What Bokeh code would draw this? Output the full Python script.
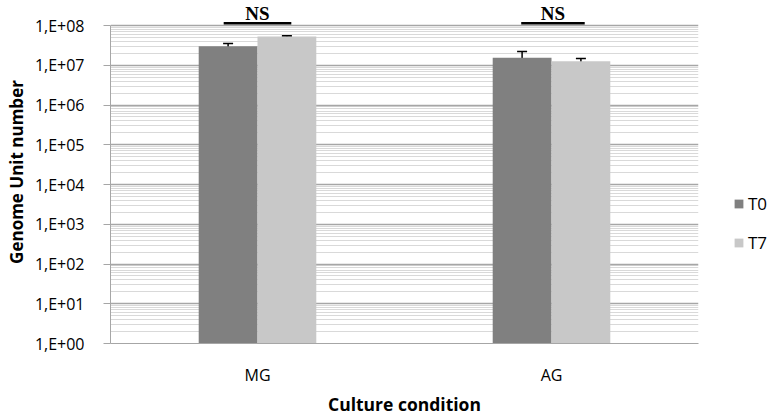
from bokeh.plotting import figure
from bokeh.models import (FactorRange, FixedTicker, ColumnDataSource, Whisker, TeeHead,
                          Legend, LegendItem, Label, Arrow)
from bokeh.transform import dodge
from bokeh.embed import file_html
from bokeh.resources import INLINE

categories = ["MG", "AG"]
series = ["T0", "T7"]
t0_values = [3.0e7, 1.55e7]
t0_lower = [2.5e7, 9.7e6]
t0_upper = [3.55e7, 2.22e7]
t7_values = [5.3e7, 1.26e7]
t7_lower = [5.15e7, 1.09e7]
t7_upper = [5.5e7, 1.48e7]
tick_values = [1, 10, 100, 1e3, 1e4, 1e5, 1e6, 1e7, 1e8]
tick_labels = ["1,E+00", "1,E+01", "1,E+02", "1,E+03", "1,E+04", "1,E+05", "1,E+06", "1,E+07", "1,E+08"]
ns_labels = ["NS", "NS"]

colors = {"T0": "#808080", "T7": "#c8c8c8"}
font = "Open Sans"

minor = [k * d for d in tick_values[:-1] for k in range(2, 10)]

p = figure(frame_width=588, frame_height=343, x_range=FactorRange(*categories, range_padding=0),
           y_axis_type="log", y_range=(1, 10 ** 8.629), output_backend="svg", toolbar_location=None,
           min_border_left=110, min_border_right=70, min_border_top=0, min_border_bottom=10)
p.outline_line_color = None
p.background_fill_color = "white"

src = ColumnDataSource(dict(cat=categories, t0=t0_values, t7=t7_values,
                            t0l=t0_lower, t0u=t0_upper, t7l=t7_lower, t7u=t7_upper))

r0 = p.vbar(x=dodge("cat", -0.1, range=p.x_range), top="t0", bottom=1, width=0.2,
            source=src, color=colors["T0"], line_color=None)
r1 = p.vbar(x=dodge("cat", 0.1, range=p.x_range), top="t7", bottom=1, width=0.2,
            source=src, color=colors["T7"], line_color=None)

for key, off in (("t0", -0.1), ("t7", 0.1)):
    w = Whisker(base=dodge("cat", off, range=p.x_range), lower=key + "l", upper=key + "u",
                source=src, line_color="black", line_width=1.5,
                upper_head=TeeHead(size=10, line_color="black", line_width=1.5),
                lower_head=TeeHead(size=10, line_color="black", line_width=1.5))
    p.add_layout(w)

# NS annotations
for i, lab in enumerate(ns_labels):
    cx = i + 0.5 + (0.0 if i == 0 else 0.005)
    half = 0.115 if i == 0 else 0.108
    p.add_layout(Arrow(end=None, x_start=cx - half, x_end=cx + half, y_start=1.14e8, y_end=1.14e8,
                       line_color="black", line_width=2.5))
    p.add_layout(Label(x=cx, y=2.06e8, text=lab, text_align="center", text_baseline="middle",
                       text_font="Liberation Serif", text_font_style="bold", text_font_size="19px",
                       text_color="black"))

# grids
p.xgrid.grid_line_color = None
p.ygrid.ticker = FixedTicker(ticks=tick_values, minor_ticks=minor)
p.ygrid.grid_line_color = "#a6a6a6"
p.ygrid.grid_line_width = 1.5
p.ygrid.minor_grid_line_color = "#d9d9d9"
p.ygrid.minor_grid_line_width = 1

# y axis
ya = p.yaxis[0]
ya.bounds = (1, 1e8)
ya.ticker = FixedTicker(ticks=tick_values, minor_ticks=[])
ya.major_label_overrides = {v: l for v, l in zip(tick_values, tick_labels)}
ya.axis_line_color = "#a6a6a6"
ya.major_tick_line_color = "#a6a6a6"
ya.major_tick_out = 7
ya.major_tick_in = 0
ya.minor_tick_line_color = None
ya.major_label_standoff = 19
ya.major_label_text_font = font
ya.major_label_text_font_size = "16px"
ya.major_label_text_color = "black"
ya.axis_label = "Genome Unit number"
ya.axis_label_text_font = font
ya.axis_label_text_font_style = "bold"
ya.axis_label_text_font_size = "17px"
ya.axis_label_text_color = "black"
ya.axis_label_standoff = 4

# x axis
xa = p.xaxis[0]
xa.axis_line_color = "#a6a6a6"
xa.major_tick_line_color = None
xa.major_tick_out = 0
xa.minor_tick_line_color = None
xa.major_label_standoff = 20
xa.major_label_text_font = font
xa.major_label_text_font_size = "16px"
xa.major_label_text_color = "black"
xa.axis_label = "Culture condition"
xa.axis_label_text_font = font
xa.axis_label_text_font_style = "bold"
xa.axis_label_text_font_size = "17.5px"
xa.axis_label_text_color = "black"
xa.axis_label_standoff = 3

legend = Legend(items=[LegendItem(label=series[0], renderers=[r0]),
                       LegendItem(label=series[1], renderers=[r1])],
                location=(35, 89), orientation="vertical", margin=0, padding=0,
                border_line_color=None, background_fill_alpha=0,
                glyph_width=11, glyph_height=11, label_standoff=4, spacing=16,
                label_text_font=font, label_text_font_size="17px", label_text_color="black")
p.add_layout(legend, "right")

open("out.html", "w").write(file_html(p, INLINE))
